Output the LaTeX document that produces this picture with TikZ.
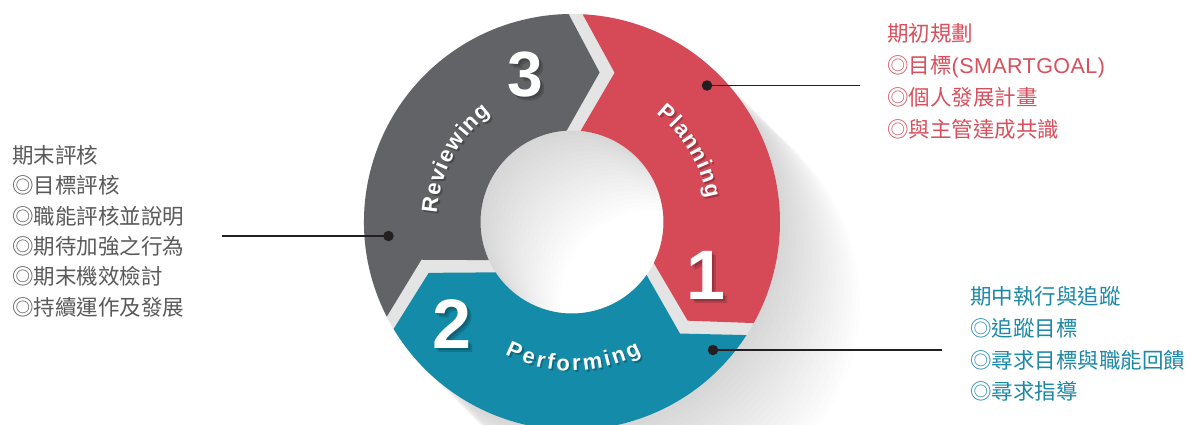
\documentclass[tikz,border=0pt]{standalone}
\usepackage{fontspec}
\setmainfont{Liberation Sans}
\newfontfamily\cjk{Noto Sans CJK TC}
\newfontfamily\lsans{Liberation Sans}
\usetikzlibrary{calc}
\definecolor{segred}{HTML}{D64A57}
\definecolor{segteal}{HTML}{148BA8}
\definecolor{seggray}{HTML}{626366}
\definecolor{txtred}{HTML}{D8505D}
\definecolor{txtteal}{HTML}{1C89A7}
\definecolor{txtgray}{HTML}{595959}
\definecolor{gapgray}{HTML}{E4E4E4}
\definecolor{leader}{HTML}{231F20}

\newcommand\arcfnt{\lsans\bfseries\fontsize{22pt}{22pt}\selectfont}
\newcommand\cjkfnt{\cjk\fontsize{21.5pt}{21.5pt}\selectfont}

\tikzset{
  arcletter/.style={font=\arcfnt, text=white, inner sep=0pt},
  arcshadow/.style={font=\arcfnt, text=black, opacity=0.25, inner sep=0pt},
  numtext/.style={font=\lsans\bfseries\fontsize{#1}{#1}\selectfont, text=white, inner sep=0pt},
  numshadow/.style={font=\lsans\bfseries\fontsize{#1}{#1}\selectfont, text=black, opacity=0.16, inner sep=0pt},
  cjktext/.style={font=\cjkfnt, anchor=base west, inner sep=0pt},
  leaderdot/.style={circle, fill=leader, minimum size=10.5pt, inner sep=0pt},
  leaderline/.style={draw=leader, line width=1.3pt},
}

% #1 name, #2 centre angle, #3 baseline radius, #4 tracking, #5 direction (1 cw / -1 ccw), #6 letter/width(em) list
\newcommand\arcword[6]{%
  \gdef\arctot{0}%
  \foreach \ch/\cw in {#6}{%
    \pgfmathsetmacro\arctmp{\arctot+\cw*22+#4}%
    \xdef\arctot{\arctmp}}%
  \pgfmathsetmacro\arcL{\arctot-#4}%
  \pgfmathsetmacro\arcR{#3+(#5)*5.7}%
  \gdef\arccum{0}%
  \foreach \ch/\cw [count=\ci] in {#6}{%
    \pgfmathsetmacro\arcang{#2+(#5)*(\arcL/2-\arccum-\cw*11)/\arcR*180/pi}%
    \pgfmathsetmacro\arcrot{\arcang-(#5)*90}%
    \node[arcshadow, rotate=\arcrot, anchor=base] (#1s\ci) at ($(\arcang:#3)+(1.8,-1.8)$) {\ch};
    \node[arcletter, rotate=\arcrot, anchor=base] (#1\ci) at (\arcang:#3) {\ch};
    \pgfmathsetmacro\arctmp{\arccum+\cw*22+#4}%
    \xdef\arccum{\arctmp}}%
}

% #1 colour, #2 start boundary angle, #3 end boundary angle (clockwise)
\newcommand\ringseg[3]{%
  \fill[#1] ($(#2-1.93:208)$) arc[start angle=#2-1.93, end angle=#3+1.93, radius=208]
     -- ($(#3:150)+(#3-90:25)$) -- ($(#3+4.38:91.5)$)
     arc[start angle=#3+4.38, end angle=#2-4.38, radius=91.5]
     -- ($(#2:150)+(#2-90:40)$) -- cycle;}

\begin{document}
\begin{tikzpicture}[x=1pt, y=1pt]
\useasboundingbox (-572,-202) rectangle (621,222);
\fill[white] (-572,-202) rectangle (621,222);

% long shadow
\foreach \k in {1,...,20}{%
  \fill[black, fill opacity=0.006, even odd rule] (\k*4,-\k*4) circle (208) (\k*4,-\k*4) circle (91.5);}

% gap colour
\fill[gapgray, even odd rule] (0,0) circle (208) (0,0) circle (91.5);

% segments
\ringseg{segred}{89}{-31}
\ringseg{segteal}{-31}{-151}
\ringseg{seggray}{209}{89}

% curved labels
\arcword{pl}{31}{136.8}{1.6}{1}{P/0.667,l/0.278,a/0.556,n/0.611,n/0.611,i/0.278,n/0.611,g/0.611}
\arcword{rv}{151.5}{135.3}{1.6}{1}{R/0.722,e/0.556,v/0.556,i/0.278,e/0.556,w/0.778,i/0.278,n/0.611,g/0.611}
\arcword{pf}{-89.4}{148.7}{2.2}{-1}{P/0.667,e/0.556,r/0.389,f/0.333,o/0.611,r/0.389,m/0.889,i/0.278,n/0.611,g/0.611}

% numbers
\node[numshadow=70pt] (n1s) at (137.5,-57) {1};
\node[numshadow=70pt] (n1t) at (135.5,-55) {1};
\node[numtext=70pt] (n1) at (133.5,-53) {1};
\node[numshadow=70pt] (n2s) at (-116.5,-106) {2};
\node[numshadow=70pt] (n2t) at (-118.5,-104) {2};
\node[numtext=70pt] (n2) at (-120.5,-102) {2};
\node[numshadow=64pt] (n3s) at (-42.5,143.5) {3};
\node[numshadow=64pt] (n3t) at (-44.5,145.5) {3};
\node[numtext=64pt] (n3) at (-46.5,147.5) {3};

% leaders
\node[leaderdot] (dR) at (135,136.5) {};
\coordinate (eR) at (288,136.5);
\draw[leaderline] (dR.center) -- (eR);
\node[leaderdot] (dG) at (-183.5,-14) {};
\coordinate (eG) at (-350,-14);
\draw[leaderline] (dG.center) -- (eG);
\node[leaderdot] (dT) at (141,-128) {};
\coordinate (eT) at (370,-128);
\draw[leaderline] (dT.center) -- (eT);

% red text block
\node[cjktext, text=txtred] (r1) at (315,180.3) {期初規劃};
\node[cjktext, text=txtred] (r2) at (315,148.5) {◎目標{\lsans\addfontfeature{LetterSpace=2}(SMARTGOAL)}};
\node[cjktext, text=txtred] (r3) at (315,116.7) {◎個人發展計畫};
\node[cjktext, text=txtred] (r4) at (315,84.9) {◎與主管達成共識};

% gray text block
\node[cjktext, text=txtgray] (g1) at (-560,58.8) {期末評核};
\node[cjktext, text=txtgray] (g2) at (-560,28.4) {◎目標評核};
\node[cjktext, text=txtgray] (g3) at (-560,-2.0) {◎職能評核並說明};
\node[cjktext, text=txtgray] (g4) at (-560,-32.4) {◎期待加強之行為};
\node[cjktext, text=txtgray] (g5) at (-560,-62.8) {◎期末機效檢討};
\node[cjktext, text=txtgray] (g6) at (-560,-93.2) {◎持續運作及發展};

% teal text block
\node[cjktext, text=txtteal] (t1) at (398,-82.7) {期中執行與追蹤};
\node[cjktext, text=txtteal] (t2) at (398,-114.4) {◎追蹤目標};
\node[cjktext, text=txtteal] (t3) at (398,-146.1) {◎尋求目標與職能回饋};
\node[cjktext, text=txtteal] (t4) at (398,-177.8) {◎尋求指導};
\end{tikzpicture}
\end{document}
